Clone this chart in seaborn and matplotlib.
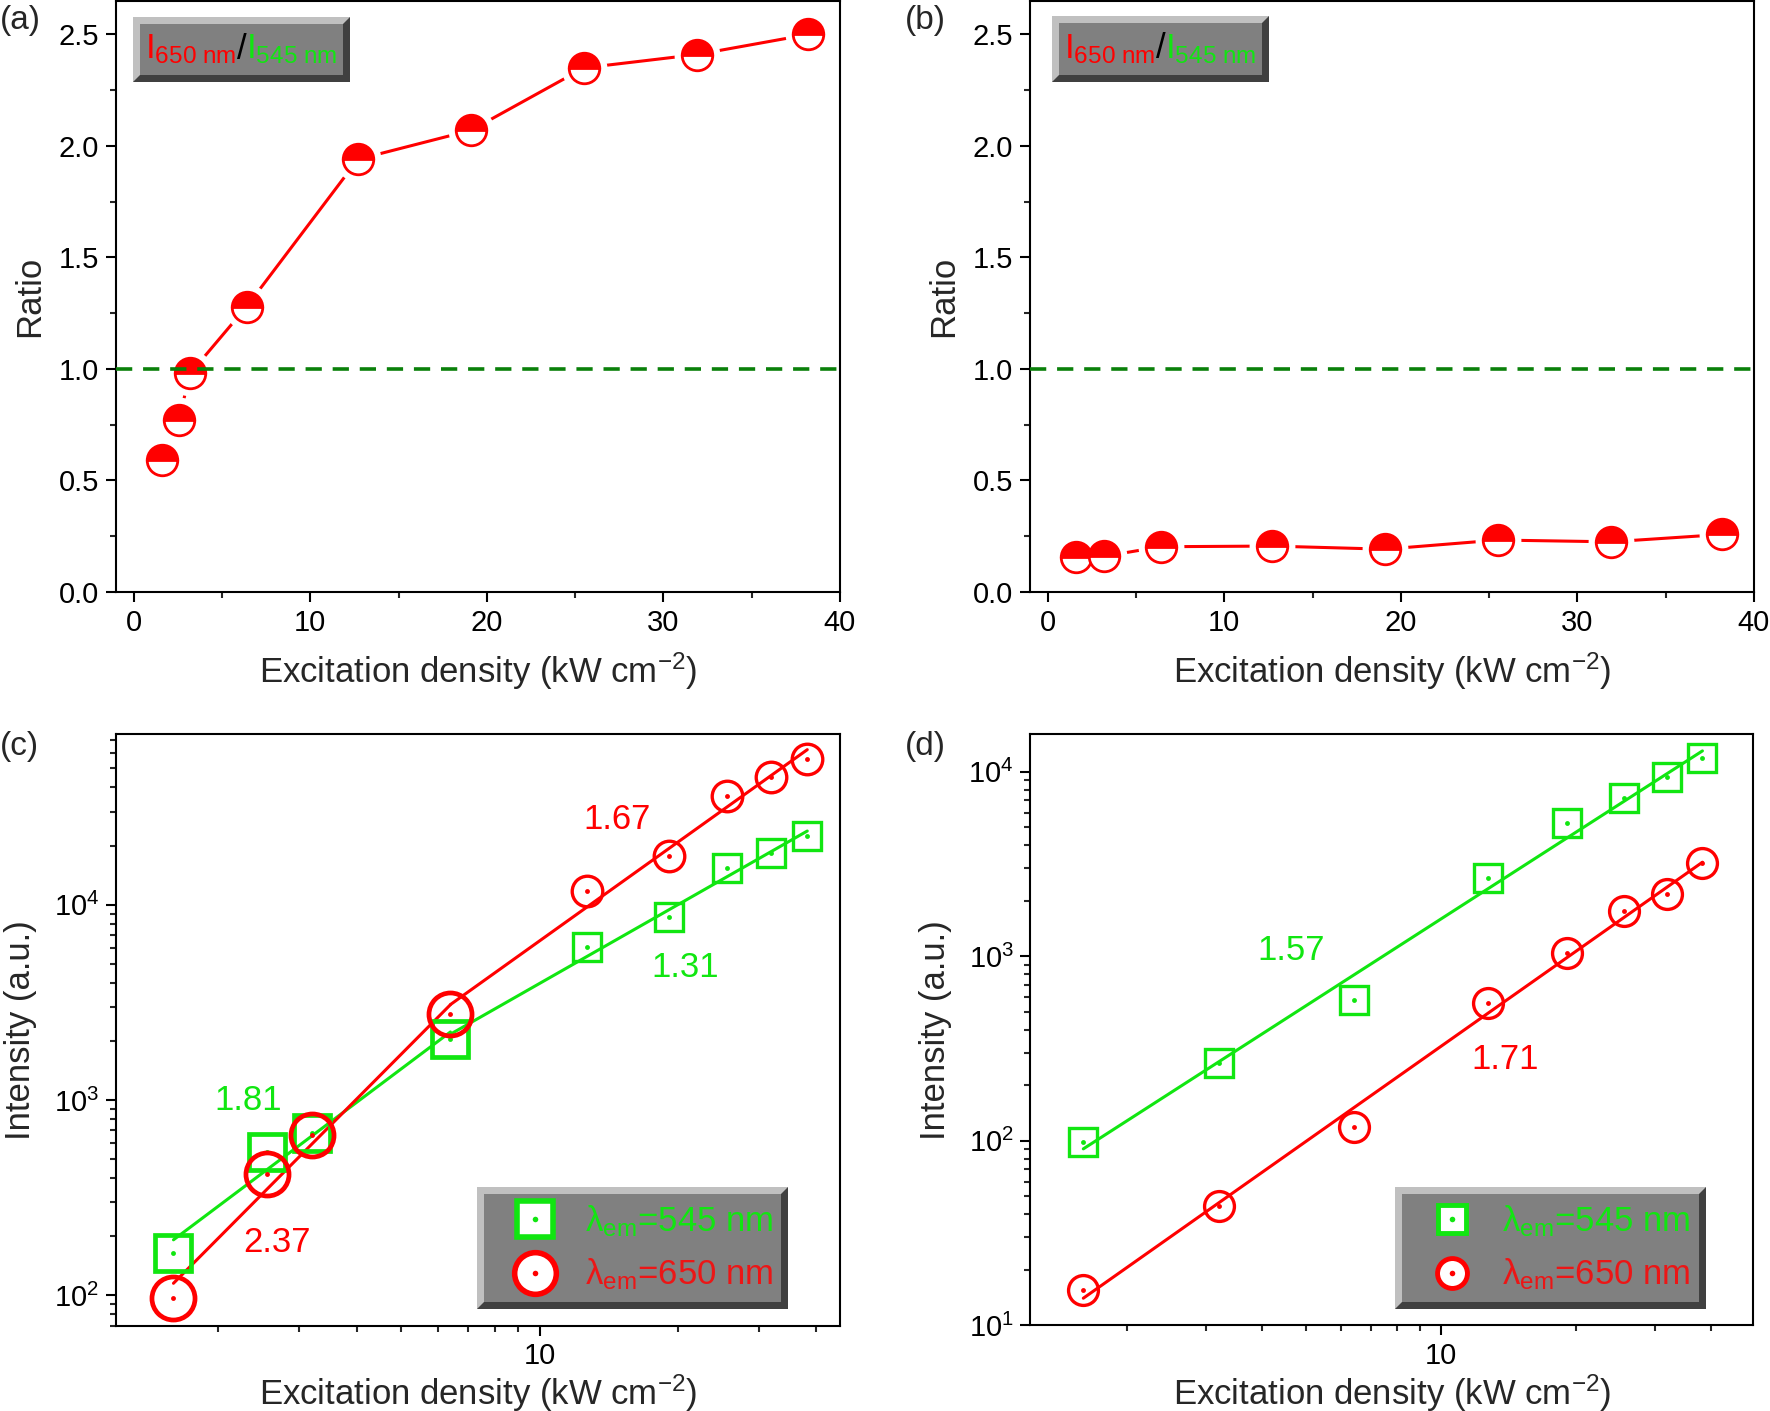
import numpy as np
import pandas as pd
import matplotlib
matplotlib.use("Agg")
import matplotlib.pyplot as plt
import seaborn as sns
import matplotlib.ticker as mticker
from matplotlib.lines import Line2D
from matplotlib.patches import Polygon, Rectangle
from matplotlib.offsetbox import TextArea, HPacker, AnchoredOffsetbox
from matplotlib.legend_handler import HandlerTuple

# ---------------- data ----------------
density_a = [1.6, 2.55, 3.2, 6.4, 12.7, 19.1, 25.5, 31.9, 38.2]
ratio_a = [0.59, 0.77, 0.98, 1.28, 1.94, 2.07, 2.35, 2.41, 2.50]

density_b = [1.6, 3.2, 6.4, 12.7, 19.1, 25.5, 31.9, 38.2]
ratio_b = [0.155, 0.160, 0.203, 0.206, 0.192, 0.233, 0.225, 0.258]

density_c = [1.6, 2.55, 3.2, 6.4, 12.7, 19.1, 25.5, 31.9, 38.2]
i545_c = [165, 540, 675, 2050, 6070, 8710, 15430, 18530, 22400]
i650_c = [97, 416, 661, 2750, 11840, 17820, 36200, 45200, 55800]

density_d = [1.6, 3.2, 6.4, 12.7, 19.1, 25.5, 31.9, 38.2]
i545_d = [99, 265, 582, 2640, 5270, 7170, 9315, 11900]
i650_d = [15.5, 44.5, 118, 558, 1047, 1757, 2175, 3200]

slope_labels_c = {"545_low": "1.81", "545_high": "1.31", "650_low": "2.37", "650_high": "1.67"}
slope_labels_d = {"545": "1.57", "650": "1.71"}
legend_labels = ["$λ_{em}$=545 nm", "$λ_{em}$=650 nm"]
ratio_ref = 1.0

# ---------------- style ----------------
W, H = 1770, 1411
RED = "#ff0000"
GREEN = "#11e611"
DGREEN = "#0a800a"
RED_TXT = "#ec1616"

sns.set_theme(style="ticks")
plt.rcParams["font.family"] = ["Liberation Sans", "DejaVu Sans"]
plt.rcParams["mathtext.fontset"] = "custom"
plt.rcParams["mathtext.rm"] = "Liberation Sans"
plt.rcParams["mathtext.it"] = "Liberation Sans:italic"
plt.rcParams["mathtext.bf"] = "Liberation Sans:bold"
plt.rcParams["mathtext.default"] = "regular"
plt.rcParams["axes.linewidth"] = 1.5
plt.rcParams["axes.edgecolor"] = "black"

fig = plt.figure(figsize=(W / 100, H / 100), dpi=100)
fig.patch.set_facecolor("white")


def add_axes_px(x0, y0, x1, y1):
    return fig.add_axes([x0 / W, 1 - y1 / H, (x1 - x0) / W, (y1 - y0) / H])


ax_a = add_axes_px(116, 1, 840, 592)
ax_b = add_axes_px(1030, 1, 1754, 592)
ax_c = add_axes_px(116, 734, 840, 1325.5)
ax_d = add_axes_px(1030.4, 734, 1753, 1325.3)


def style_ticks(ax):
    ax.tick_params(which="major", direction="out", length=7, width=1.5,
                   labelsize=21, pad=5, colors="black", top=False, right=False)
    ax.tick_params(which="minor", direction="out", length=4, width=1.5,
                   top=False, right=False)
    for s in ax.spines.values():
        s.set_visible(True)
        s.set_linewidth(1.5)
        s.set_color("black")
    ax.set_facecolor("white")


def bevel(ax, x0, y0, x1, y1, b=7):
    L, R = x0 / W, x1 / W
    T, B = 1 - y0 / H, 1 - y1 / H
    bx, by = b / W, b / H
    kw = dict(transform=fig.transFigure, clip_on=False, ec="none")
    ax.add_patch(Rectangle((L, B), R - L, T - B, fc="#404040", zorder=10, **kw))
    ax.add_patch(Polygon([(L, B), (L + bx, B + by), (R - bx, T - by), (R, T), (L, T)],
                         closed=True, fc="#c0c0c0", zorder=10.1, **kw))
    ax.add_patch(Rectangle((L + bx, B + by), R - L - 2 * bx, T - B - 2 * by,
                           fc="#808080", zorder=10.2, **kw))


xlabel = "Excitation density (kW cm$^{-2}$)"

# ---------------- ratio panels ----------------
for ax, xs, ys, tag, lx in [(ax_a, density_a, ratio_a, "(a)", 0), (ax_b, density_b, ratio_b, "(b)", 905)]:
    style_ticks(ax)
    df = pd.DataFrame({"x": xs, "y": ys})
    sns.lineplot(data=df, x="x", y="y", ax=ax, color=RED, lw=2.2, estimator=None,
                 sort=False, zorder=2)
    ax.plot(df["x"], df["y"], ls="none", marker="o", ms=33, mfc="white", mec="none", zorder=3)
    ax.plot(df["x"], df["y"], ls="none", marker="o", ms=22, fillstyle="top",
            mfc=RED, mfcalt="white", mec=RED, mew=2, zorder=4)
    ax.axhline(ratio_ref, color=DGREEN, lw=2.6, ls=(0, (4.5, 3)), zorder=5)
    ax.set_xlim(-1, 40)
    ax.set_ylim(0, 2.65)
    ax.xaxis.set_major_locator(mticker.MultipleLocator(10))
    ax.xaxis.set_minor_locator(mticker.MultipleLocator(5))
    ax.yaxis.set_major_locator(mticker.MultipleLocator(0.5))
    ax.yaxis.set_minor_locator(mticker.MultipleLocator(0.25))
    ax.yaxis.set_major_formatter(mticker.FormatStrFormatter("%.1f"))
    ax.set_xlabel(xlabel, fontsize=25, labelpad=10)
    ax.set_ylabel("Ratio", fontsize=25, labelpad=9)
    fig.text(lx / W, 1 - 20 / H, tag, fontsize=24, ha="left", va="center")

# ratio text boxes
for ax, (x0, y0, x1, y1) in [(ax_a, (133, 17, 350, 82)), (ax_b, (1052, 16, 1269, 82))]:
    bevel(ax, x0, y0, x1, y1)
    ta1 = TextArea(r"$I_{650\ nm}$", textprops=dict(color=RED, fontsize=25))
    ta2 = TextArea("/", textprops=dict(color="black", fontsize=25))
    ta3 = TextArea(r"$I_{545\ nm}$", textprops=dict(color=GREEN, fontsize=25))
    pack = HPacker(children=[ta1, ta2, ta3], align="baseline", pad=0, sep=0)
    anch = AnchoredOffsetbox(loc="center", child=pack, pad=0, borderpad=0, frameon=False,
                             bbox_to_anchor=((x0 + x1) / 2 / W, 1 - (y0 + y1) / 2 / H),
                             bbox_transform=fig.transFigure)
    anch.set_zorder(12)
    ax.add_artist(anch)


# ---------------- intensity panels ----------------
def fit_line(ax, xs, ys, color):
    lx, ly = np.log10(xs), np.log10(ys)
    p = np.polyfit(lx, ly, 1)
    xe = np.array([xs[0], xs[-1]])
    ye = 10 ** np.polyval(p, np.log10(xe))
    sns.lineplot(x=xe, y=ye, ax=ax, color=color, lw=2.2, estimator=None, sort=False, zorder=2)


def log_axes(ax, xlim, ylim):
    ax.set_xscale("log")
    ax.set_yscale("log")
    ax.set_xlim(*xlim)
    ax.set_ylim(*ylim)
    ax.xaxis.set_major_locator(mticker.LogLocator(base=10))
    ax.xaxis.set_minor_locator(mticker.LogLocator(base=10, subs=np.arange(2, 10)))
    ax.xaxis.set_major_formatter(mticker.FormatStrFormatter("%g"))
    ax.xaxis.set_minor_formatter(mticker.NullFormatter())
    ax.yaxis.set_major_locator(mticker.LogLocator(base=10))
    ax.yaxis.set_minor_locator(mticker.LogLocator(base=10, subs=np.arange(2, 10)))
    ax.yaxis.set_minor_formatter(mticker.NullFormatter())
    ax.set_xlabel(xlabel, fontsize=25, labelpad=2)
    ax.set_ylabel("Intensity (a.u.)", fontsize=25, labelpad=12)


def markers(ax, xs, ys, marker, color, ms, mew):
    ax.plot(xs, ys, ls="none", marker=marker, ms=ms, mfc="none", mec=color, mew=mew, zorder=4)
    ax.plot(xs, ys, ls="none", marker="o", ms=3.5, mfc=color, mec="none", zorder=4)


# (c)
style_ticks(ax_c)
brk = 3
xc = np.array(density_c)
g_c = np.array(i545_c, dtype=float)
r_c = np.array(i650_c, dtype=float)
fit_line(ax_c, xc[:brk + 1], g_c[:brk + 1], GREEN)
fit_line(ax_c, xc[brk:], g_c[brk:], GREEN)
fit_line(ax_c, xc[:brk + 1], r_c[:brk + 1], RED)
fit_line(ax_c, xc[brk:], r_c[brk:], RED)
markers(ax_c, xc[:brk + 1], g_c[:brk + 1], "s", GREEN, 26, 3.4)
markers(ax_c, xc[brk + 1:], g_c[brk + 1:], "s", GREEN, 20, 2.4)
markers(ax_c, xc[:brk + 1], r_c[:brk + 1], "o", RED, 31, 3.4)
markers(ax_c, xc[brk + 1:], r_c[brk + 1:], "o", RED, 22, 2.4)
log_axes(ax_c, (1.2, 45), (70, 75000))
ax_c.text(14.75, 27300, slope_labels_c["650_high"], color=RED, fontsize=25, ha="center", va="center")
ax_c.text(20.7, 4750, slope_labels_c["545_high"], color=GREEN, fontsize=25, ha="center", va="center")
ax_c.text(2.33, 990, slope_labels_c["545_low"], color=GREEN, fontsize=25, ha="center", va="center")
ax_c.text(2.69, 187, slope_labels_c["650_low"], color=RED, fontsize=25, ha="center", va="center")
fig.text(0 / W, 1 - 747 / H, "(c)", fontsize=24, ha="left", va="center")

# (d)
style_ticks(ax_d)
xd = np.array(density_d)
g_d = np.array(i545_d, dtype=float)
r_d = np.array(i650_d, dtype=float)
fit_line(ax_d, xd, g_d, GREEN)
fit_line(ax_d, xd, r_d, RED)
markers(ax_d, xd, g_d, "s", GREEN, 20, 2.4)
markers(ax_d, xd, r_d, "o", RED, 21.5, 2.4)
log_axes(ax_d, (1.22, 49.5), (10, 16000))
ax_d.text(4.65, 1078, slope_labels_d["545"], color=GREEN, fontsize=25, ha="center", va="center")
ax_d.text(13.9, 274, slope_labels_d["650"], color=RED, fontsize=25, ha="center", va="center")
fig.text(905 / W, 1 - 747 / H, "(d)", fontsize=24, ha="left", va="center")


# legends
def bevel_legend(ax, box, marker_x, ms_sq, ms_ci, mew):
    x0, y0, x1, y1 = box
    bevel(ax, x0, y0, x1, y1)
    hs = (Line2D([], [], ls="none", marker="s", ms=ms_sq, mfc="white", mec=GREEN, mew=mew),
          Line2D([], [], ls="none", marker="o", ms=4, mfc=GREEN, mec="none"))
    hc = (Line2D([], [], ls="none", marker="o", ms=ms_ci, mfc="white", mec=RED, mew=mew),
          Line2D([], [], ls="none", marker="o", ms=4, mfc=RED, mec="none"))
    fs = 25
    hl = 1.2
    left = marker_x - hl * fs * 100 / 72 / 2
    leg = ax.legend([hs, hc], legend_labels, handler_map={tuple: HandlerTuple(ndivide=1)},
                    loc="center left", bbox_to_anchor=(left / W, 1 - (y0 + y1) / 2 / H),
                    bbox_transform=fig.transFigure, frameon=False, fontsize=fs,
                    handlelength=hl, handletextpad=0.85, borderpad=0, labelspacing=0.5,
                    labelcolor=[GREEN, RED_TXT], borderaxespad=0)
    leg.set_zorder(12)


bevel_legend(ax_c, (477, 1187, 788, 1309), 535, 26, 30, 4)
bevel_legend(ax_d, (1395, 1187, 1706, 1309), 1452, 20, 21.5, 3.5)

fig.savefig("out.png", dpi=100, facecolor="white")
